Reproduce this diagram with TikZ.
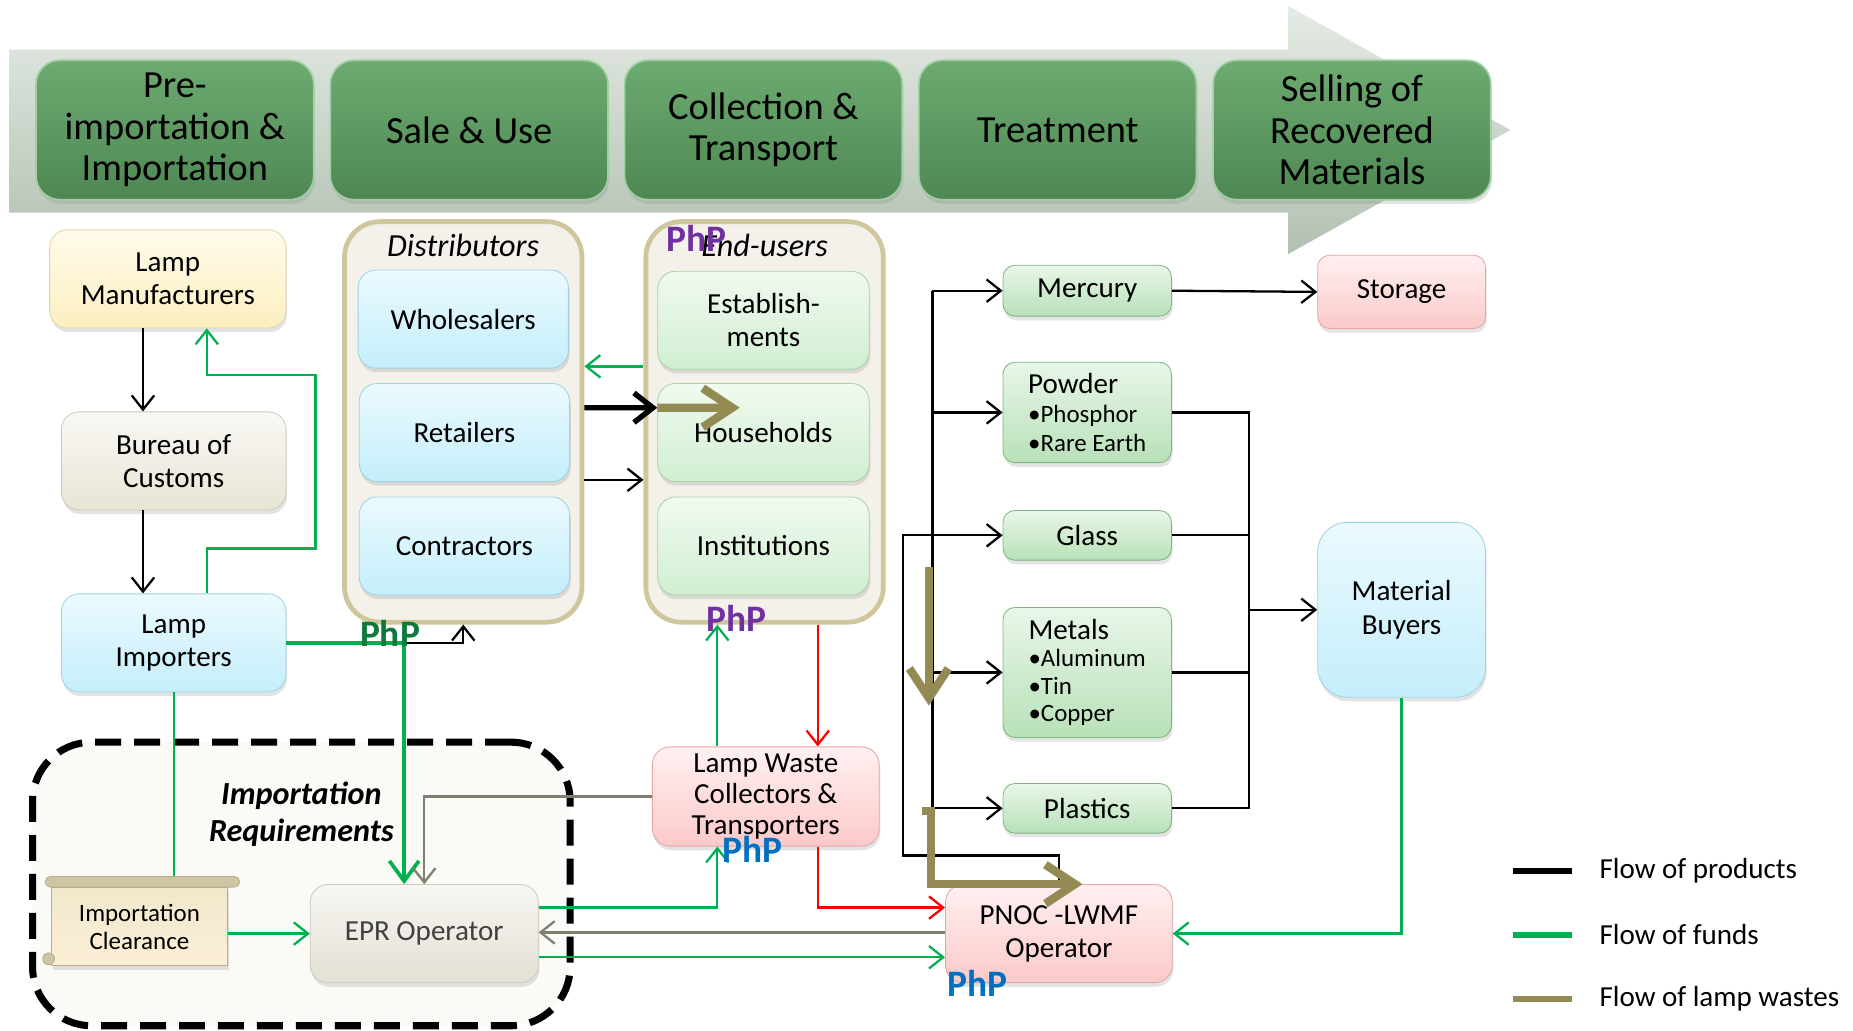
\documentclass[tikz,border=0pt]{standalone}
\usepackage{fontspec}
\setmainfont{Carlito}
\definecolor{stageTop}{HTML}{6DAB71}
\definecolor{stageBot}{HTML}{4E8753}
\definecolor{stageRim}{HTML}{A3CFA5}
\definecolor{bannerTop}{HTML}{E4EBE4}
\definecolor{bannerBot}{HTML}{B2C0B2}
\definecolor{manufTop}{HTML}{FFFBEA}
\definecolor{manufBot}{HTML}{FCEFC0}
\definecolor{manufRim}{HTML}{E2D6A6}
\definecolor{customsTop}{HTML}{F9F8F3}
\definecolor{customsBot}{HTML}{E8E5D6}
\definecolor{customsRim}{HTML}{CDC9BA}
\definecolor{blueTop}{HTML}{EBFAFE}
\definecolor{blueBot}{HTML}{C4EEFB}
\definecolor{blueRim}{HTML}{9DD2E2}
\definecolor{userTop}{HTML}{F0FAF0}
\definecolor{userBot}{HTML}{D1EED1}
\definecolor{userRim}{HTML}{A8D2A8}
\definecolor{matTop}{HTML}{E8F6E8}
\definecolor{matBot}{HTML}{B8E1B8}
\definecolor{matRim}{HTML}{7FB57F}
\definecolor{pinkTop}{HTML}{FFF0F0}
\definecolor{pinkBot}{HTML}{FBC9C9}
\definecolor{pinkRim}{HTML}{E4A5A5}
\definecolor{eprTop}{HTML}{F7F6F1}
\definecolor{eprBot}{HTML}{E3E0D5}
\definecolor{eprRim}{HTML}{CECABD}
\definecolor{eprText}{HTML}{404040}
\definecolor{scrollTop}{HTML}{F1E8CC}
\definecolor{scrollBot}{HTML}{FCEFD6}
\definecolor{scrollRoll}{HTML}{CFC5A3}
\definecolor{scrollRim}{HTML}{B8AE8C}
\definecolor{frameTan}{HTML}{CFC79B}
\definecolor{frameFill}{HTML}{F4F1EA}
\definecolor{zoneFill}{HTML}{FAFAF6}
\definecolor{fundGreen}{HTML}{00B050}
\definecolor{wasteOlive}{HTML}{948A54}
\definecolor{eprGrey}{HTML}{7F7F6F}
\definecolor{phpGreen}{HTML}{0B7A3B}
\definecolor{phpPurple}{HTML}{7030A0}
\definecolor{phpBlue}{HTML}{0070C0}
\usetikzlibrary{arrows.meta,positioning,calc,shadows}

\begin{document}
\begin{tikzpicture}[x=0.02cm, y=-0.02cm,
    boxshadow/.style={drop shadow={opacity=0.22, shadow xshift=0.02cm, shadow yshift=-0.07cm}},
    box/.style={draw, rounded corners=0.3cm, align=center, inner sep=1pt,
      minimum width=3.8cm, minimum height=1.66cm,
      font=\fontsize{14}{16}\selectfont, boxshadow},
    stage/.style={box, draw=stageRim, line width=0.8pt, rounded corners=0.4cm,
      top color=stageTop, bottom color=stageBot, minimum width=4.7cm,
      minimum height=2.36cm, font=\fontsize{18.5}{20}\selectfont},
    bluebox/.style={box, draw=blueRim, top color=blueTop, bottom color=blueBot},
    userbox/.style={box, draw=userRim, top color=userTop, bottom color=userBot,
      minimum width=3.58cm},
    matbox/.style={box, draw=matRim, top color=matTop, bottom color=matBot,
      minimum width=2.85cm, rounded corners=0.2cm},
    pinkbox/.style={box, draw=pinkRim, top color=pinkTop, bottom color=pinkBot},
    groupframe/.style={draw=frameTan, line width=2.3pt, fill=frameFill,
      rounded corners=0.6cm, minimum width=4.02cm, minimum height=6.78cm},
    framelabel/.style={font=\fontsize{15.5}{16}\selectfont\itshape, inner sep=0pt},
    php/.style={font=\fontsize{18}{18}\selectfont\bfseries, inner sep=0pt},
    legendtext/.style={font=\fontsize{14}{16}\selectfont, text=black, inner sep=0pt},
    link/.style={draw=black, line width=1.1pt},
    prod/.style={link, -{Straight Barb[length=2.4mm, width=3.8mm]}},
    fund/.style={draw=fundGreen, line width=1.1pt, -{Straight Barb[length=2.4mm, width=3.8mm]}},
    retline/.style={draw=eprGrey, line width=1.1pt, -{Straight Barb[length=2.4mm, width=3.8mm]}},
    redline/.style={draw=red, line width=1.1pt, -{Straight Barb[length=2.4mm, width=3.8mm]}},
    waste/.style={draw=wasteOlive, line width=4pt, -{Straight Barb[length=5mm, width=6.6mm]}},
  ]
  \useasboundingbox (0,0) rectangle (1568,872);

  % Banner arrow
  \shade[top color=bannerTop, bottom color=bannerBot]
    (8,42) -- (1090,42) -- (1090,5) -- (1278,110) -- (1090,215) -- (1090,180) -- (8,180) -- cycle;
  % Stages
  \foreach \i/\txt in {0/{Pre-\\importation \&\\Importation}, 1/{Sale \& Use},
      2/{Collection \&\\Transport}, 3/{Treatment}, 4/{Selling of\\Recovered\\Materials}}
    \node[stage] (stage\i) at ({148+249*\i},110) {\txt};

  % Importation requirements zone
  \node[draw=black, line width=3.4pt, dash pattern=on 0.44cm off 0.22cm,
    rounded corners=1cm, fill=zoneFill, minimum width=9.1cm, minimum height=4.8cm] (zone) at (255,748) {};
  \node[font=\fontsize{15.5}{18}\selectfont\bfseries\itshape, align=center] (reqlabel) at (255,689) {Importation\\Requirements};

  % Import chain
  \node[box, draw=manufRim, top color=manufTop, bottom color=manufBot, minimum width=4cm] (manuf) at (142,236) {Lamp\\Manufacturers};
  \node[box, draw=customsRim, top color=customsTop, bottom color=customsBot] (customs) at (147,390) {Bureau of\\Customs};
  \node[bluebox] (importers) at (147,544) {Lamp\\Importers};

  % Distributors and end-users
  \node[groupframe] (distrib) at (392,357) {};
  \node[framelabel] (distribTitle) at (392,208) {Distributors};
  \node[bluebox, minimum width=3.56cm] (whole) at (392,270) {Wholesalers};
  \node[bluebox, minimum width=3.56cm] (retail) at (393,366) {Retailers};
  \node[bluebox, minimum width=3.56cm] (contract) at (393,462) {Contractors};
  \node[groupframe] (users) at (647,357) {};
  \node[framelabel] (usersTitle) at (647,208) {End-users};
  \node[userbox] (establish) at (646,271) {Establish-\\ments};
  \node[userbox] (house) at (646,366) {Households};
  \node[userbox] (inst) at (646,462) {Institutions};

  % Recovered materials
  \node[matbox, minimum height=0.86cm] (mercury) at (920,246) {Mercury};
  \node[matbox, minimum height=1.7cm, align=left, font=\fontsize{12}{13.8}\selectfont] (powder) at (920,349)
    {{\fontsize{14}{14}\selectfont Powder}\\\textbullet Phosphor\\\textbullet Rare Earth};
  \node[matbox, minimum height=0.84cm] (glass) at (920,453) {Glass};
  \node[matbox, minimum height=2.2cm, align=left, font=\fontsize{12}{13.2}\selectfont] (metals) at (920,569)
    {{\fontsize{14}{14}\selectfont Metals}\\\textbullet Aluminum\\\textbullet Tin\\\textbullet Copper};
  \node[matbox, minimum height=0.84cm] (plastics) at (920,684) {Plastics};
  \node[pinkbox, minimum width=2.84cm, minimum height=1.24cm, rounded corners=0.2cm] (storage) at (1186,247) {Storage};
  \node[bluebox, minimum width=2.84cm, minimum height=2.96cm, rounded corners=0.5cm] (buyers) at (1186,516) {Material\\Buyers};

  % Collection and treatment
  \node[pinkbox, minimum width=3.84cm, minimum height=1.68cm, font=\fontsize{14}{15}\selectfont] (collect) at (648,674) {Lamp Waste\\Collectors \&\\Transporters};
  \node[pinkbox, minimum width=3.84cm] (pnoc) at (896,790) {PNOC -LWMF\\Operator};
  \node[box, draw=eprRim, top color=eprTop, bottom color=eprBot, text=eprText, minimum width=3.86cm] (epr) at (359,790) {EPR Operator};
  \node[box, rounded corners=0pt, draw=scrollRim, top color=scrollTop, bottom color=scrollBot,
    minimum width=2.98cm, minimum height=1.32cm, font=\fontsize{12}{13.5}\selectfont] (clear) at (118,784) {Importation\\Clearance};
  \draw[fund, -] (importers.south) -- (importers.south |- clear.north);
  \draw[draw=scrollRim, fill=scrollRoll, rounded corners=0.09cm]
    ([xshift=-0.1cm, yshift=0.18cm]clear.north west) rectangle ([xshift=0.2cm]clear.north east);
  \draw[draw=scrollRim, fill=scrollRoll] ([xshift=-0.04cm, yshift=0.12cm]clear.south west) circle (0.1cm);

  % Flow of products
  \draw[prod] ([xshift=-0.42cm]manuf.south) -- ([xshift=-0.42cm]manuf.south |- customs.north);
  \draw[prod] ([xshift=-0.52cm]customs.south) -- ([xshift=-0.52cm]customs.south |- importers.north);
  \draw[prod] (importers.east) -| (distrib.south);
  \draw[prod] ([yshift=-0.98cm]distrib.east) -- ([yshift=-0.98cm]users.west);
  \draw[link, line width=2.6pt, -{Straight Barb[length=3.2mm, width=5mm]}]
    ([yshift=0.24cm]distrib.east) -- ([yshift=0.42cm]house.west);
  \coordinate (split) at (789,0);
  \coordinate (merge) at (1057,0);
  \coordinate (loop) at (764,724);
  \draw[link] (split |- mercury.west) -- (split |- plastics.west);
  \foreach \m in {mercury,powder,metals,plastics}
    \draw[prod] (split |- \m.west) -- (\m.west);
  \draw[prod] (pnoc.north) |- (loop) |- (glass.west);
  \draw[link] (powder.east) -| (merge |- plastics.east) -- (plastics.east);
  \foreach \m in {glass,metals}
    \draw[link] (\m.east) -- (merge |- \m.east);
  \draw[prod] (merge |- buyers.west) -- (buyers.west);
  \draw[prod] (mercury.east) -- (storage.west);

  % Flow of funds
  \draw[fund] ([xshift=0.56cm]importers.north) -- ++(0,-38) -| ++(92,-147) -| ([xshift=0.66cm]manuf.south);
  \draw[fund, line width=1.8pt, -{Straight Barb[length=3.4mm, width=5mm]}]
    (importers.east) -| ([xshift=-0.34cm]epr.north);
  \draw[fund] ([yshift=0.94cm]users.west) -- ([yshift=0.94cm]distrib.east);
  \draw[fund] ([xshift=-0.82cm]collect.north) -- ([xshift=-0.82cm]collect.north |- users.south);
  \draw[fund] ([yshift=0.44cm]epr.east) -| ([xshift=-0.82cm]collect.south);
  \draw[fund] ([yshift=-0.4cm]epr.east) -- ([yshift=-0.4cm]pnoc.west);
  \draw[fund] (clear.east |- epr.west) -- (epr.west);
  \draw[fund] (buyers.south) |- (pnoc.east);

  % Returns and hazardous waste
  \draw[retline] (collect.west) -| (epr.north);
  \draw[retline] ([yshift=0.02cm]pnoc.west) -- ([yshift=0.02cm]epr.east);
  \draw[redline] ([xshift=0.9cm]users.south) -- ([xshift=0.9cm]users.south |- collect.north);
  \draw[redline] ([xshift=0.88cm]collect.south) |- ([yshift=0.44cm]pnoc.west);

  % Flow of lamp wastes
  \coordinate (wasteIn) at (626,345);
  \coordinate (wasteTop) at (786,480);
  \coordinate (wasteLow) at (786,597);
  \coordinate (wasteStub) at (780,686);
  \draw[waste] ([yshift=0.42cm]house.west) -- (wasteIn);
  \draw[waste] (wasteTop) -- (wasteLow);
  \draw[waste] (wasteStub) -- ++(8,0) |- ([xshift=0.4cm]pnoc.north);

  % PhP labels
  \node[php, text=phpGreen] (phpImport) at (330,536) {PhP};
  \node[php, text=phpPurple] (phpUsersTop) at (589,202) {PhP};
  \node[php, text=phpPurple] (phpUsersLow) at (623,523) {PhP};
  \node[php, text=phpBlue] (phpCollect) at (637,719) {PhP};
  \node[php, text=phpBlue] (phpPnoc) at (827,832) {PhP};

  % Legend
  \foreach \y/\c/\t [count=\k] in {737/black/Flow of products, 791/fundGreen/Flow of funds, 845/wasteOlive/Flow of lamp wastes}
    \draw[line width=0.1cm, \c] (1280,\y) coordinate (leg\k) -- ++(50,0)
      node[legendtext, right=0.42cm] (legtext\k) {\t};
\end{tikzpicture}
\end{document}
